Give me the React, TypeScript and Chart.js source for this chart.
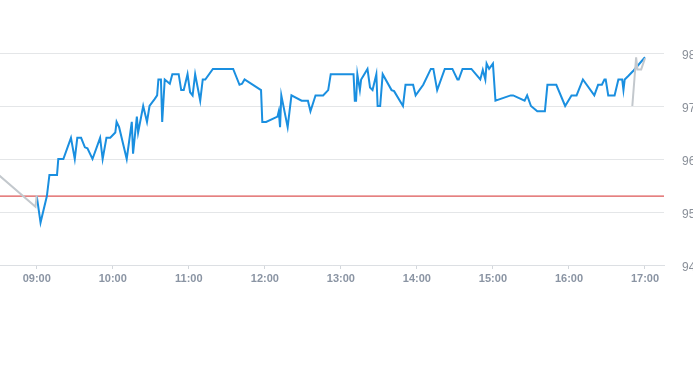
import React, { useEffect, useRef } from "react";
import { Chart, registerables } from "chart.js";

Chart.register(...registerables);

// Intraday price (regular session)
const sessionTimes = ["09:00","09:03","09:08","09:10","09:16","09:17","09:21","09:27","09:30","09:32","09:35","09:38","09:40","09:44","09:50","09:52","09:55","09:58","10:02","10:03","10:05","10:11","10:15","10:16","10:19","10:20","10:24","10:27","10:29","10:33","10:35","10:36","10:38","10:39","10:41","10:45","10:47","10:52","10:54","10:56","10:59","11:01","11:03","11:05","11:09","11:11","11:13","11:19","11:35","11:40","11:42","11:44","11:57","11:58","12:01","12:10","12:11","12:12","12:13","12:18","12:21","12:29","12:34","12:36","12:40","12:46","12:50","12:52","13:10","13:11","13:12","13:13","13:15","13:16","13:21","13:23","13:25","13:28","13:29","13:31","13:33","13:40","13:42","13:49","13:51","13:57","13:59","14:05","14:11","14:13","14:16","14:22","14:28","14:32","14:33","14:36","14:43","14:50","14:52","14:54","14:55","14:57","15:00","15:02","15:14","15:16","15:25","15:27","15:30","15:35","15:41","15:43","15:45","15:50","15:57","16:02","16:06","16:11","16:20","16:23","16:26","16:28","16:29","16:31","16:36","16:39","16:42","16:43","16:44","16:47","16:51","17:00"];
const sessionValues = [95.30,94.80,95.30,95.70,95.70,96.00,96.00,96.40,96.00,96.40,96.40,96.22,96.20,96.00,96.40,96.00,96.40,96.40,96.50,96.70,96.60,96.00,96.70,96.10,96.80,96.50,97.00,96.70,97.00,97.13,97.20,97.50,97.50,96.70,97.50,97.42,97.60,97.60,97.30,97.30,97.60,97.26,97.20,97.60,97.10,97.50,97.50,97.70,97.70,97.40,97.42,97.50,97.30,96.70,96.70,96.80,96.90,96.60,97.20,96.60,97.20,97.10,97.10,96.90,97.20,97.20,97.30,97.60,97.60,97.10,97.10,97.60,97.30,97.50,97.70,97.35,97.30,97.60,97.00,97.00,97.60,97.30,97.28,97.00,97.40,97.40,97.20,97.40,97.70,97.70,97.30,97.70,97.70,97.50,97.50,97.70,97.70,97.50,97.68,97.50,97.80,97.70,97.80,97.10,97.20,97.20,97.10,97.20,97.00,96.90,96.90,97.40,97.40,97.40,97.00,97.20,97.20,97.50,97.20,97.40,97.40,97.50,97.50,97.20,97.20,97.50,97.50,97.30,97.50,97.57,97.67,97.92];

// Pre-market and after-hours (grey)
const preTimes = ["08:25","08:59","09:00"];
const preValues = [95.80,95.10,95.32];
const postTimes = ["16:50","16:53","16:54","16:57","17:00"];
const postValues = [97.00,97.92,97.69,97.69,97.90];

// Previous close (red reference line)
const refTimes = ["08:00","17:30"];
const refValues = [95.30,95.30];

// Axes
const xMin = "08:31";
const xMax = "17:15";
const xTickLabels = ["09:00","10:00","11:00","12:00","13:00","14:00","15:00","16:00","17:00"];
const yTickValues = [94, 95, 96, 97, 98];

const toMin = (s: string) => {
  const [h, m] = s.split(":").map(Number);
  return h * 60 + m;
};
const fmt = (v: number) => {
  const h = Math.floor(v / 60);
  const m = Math.round(v - h * 60);
  return String(h).padStart(2, "0") + ":" + String(m).padStart(2, "0");
};
const pts = (t: string[], v: number[]) => t.map((s, i) => ({ x: toMin(s), y: v[i] }));

export default function App() {
  const ref = useRef<HTMLCanvasElement | null>(null);
  useEffect(() => {
    if (!ref.current) return;
    const chart = new Chart(ref.current, {
      type: "line",
      data: {
        datasets: [
          { data: pts(preTimes, preValues), borderColor: "#c3c8cd", borderWidth: 2, pointRadius: 0, tension: 0, order: 0 },
          { data: pts(postTimes, postValues), borderColor: "#c3c8cd", borderWidth: 2, pointRadius: 0, tension: 0, order: 0 },
          { data: pts(sessionTimes, sessionValues), borderColor: "#1a8fe0", borderWidth: 2, pointRadius: 0, tension: 0, order: 1 },
          { data: pts(refTimes, refValues), borderColor: "#d42a2a", borderWidth: 1, pointRadius: 0, tension: 0, order: 2 },
        ],
      },
      options: {
        animation: false,
        responsive: false,
        devicePixelRatio: 1,
        layout: { padding: { top: 53, bottom: 70, left: 0, right: 0 } },
        plugins: { legend: { display: false }, tooltip: { enabled: false } },
        scales: {
          x: {
            type: "linear",
            min: toMin(xMin),
            max: toMin(xMax),
            afterBuildTicks: (s: any) => {
              s.ticks = xTickLabels.map((l) => ({ value: toMin(l) }));
            },
            afterFit: (s: any) => {
              s.height = 30;
            },
            grid: { drawOnChartArea: false, drawTicks: true, tickLength: 4, color: "#d3d7dc" },
            border: { display: true, color: "#dcdfe3" },
            ticks: {
              padding: 3,
              maxRotation: 0,
              autoSkip: false,
              color: "#8a94a3",
              font: { family: "Arial", size: 11, weight: "bold" },
              callback: (v: any) => fmt(Number(v)),
            },
          },
          y: {
            position: "right",
            min: 94,
            max: 98,
            afterBuildTicks: (s: any) => {
              s.ticks = yTickValues.map((v) => ({ value: v }));
            },
            afterFit: (s: any) => {
              s.width = 46;
            },
            grid: { color: "#e4e6e8", drawTicks: false },
            border: { display: false },
            ticks: {
              padding: 18,
              labelOffset: 3,
              color: "#8a9099",
              font: { family: "Arial", size: 12 },
              callback: (v: any) => String(v),
            },
          },
        },
      },
    });
    return () => chart.destroy();
  }, []);

  return (
    <div style={{ position: "fixed", left: 0, top: 0, width: 693, height: 365, overflow: "hidden", background: "#fff" }}>
      <div style={{ width: 710, height: 365 }}>
        <canvas ref={ref} width={710} height={365} style={{ display: "block", width: 710, height: 365 }} />
      </div>
    </div>
  );
}
